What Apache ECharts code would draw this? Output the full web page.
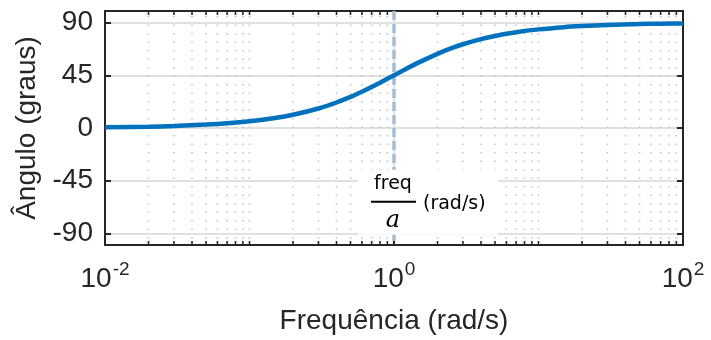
<!DOCTYPE html>
<html>
<head>
<meta charset="utf-8">
<script src="https://cdn.jsdelivr.net/npm/echarts@6/dist/echarts.min.js"></script>
<style>
  html, body { margin: 0; padding: 0; background: #fff; }
  #chart { width: 711px; height: 340px; }
</style>
</head>
<body>
<div id="chart"></div>
<script>
// frequency (rad/s) and phase (degrees)
const freq = [0.01, 0.02, 0.03, 0.05, 0.07, 0.1, 0.15, 0.2, 0.3, 0.4, 0.5, 0.6, 0.7, 0.8, 0.9,
  1, 1.2, 1.5, 2, 2.5, 3, 4, 5, 7, 10, 15, 20, 30, 50, 70, 100];
const phase = [0.6, 1.1, 1.7, 2.9, 4.0, 5.7, 8.5, 11.3, 16.7, 21.8, 26.6, 31.0, 35.0, 38.7, 42.0,
  45, 50.2, 56.3, 63.4, 68.2, 71.6, 76.0, 78.7, 81.9, 84.3, 86.2, 87.1, 88.1, 88.9, 89.2, 89.4];
const yTicks = [-90, -45, 0, 45, 90];
const minorTicks = [0.02, 0.03, 0.04, 0.05, 0.06, 0.07, 0.08, 0.09, 0.1,
  0.2, 0.3, 0.4, 0.5, 0.6, 0.7, 0.8, 0.9,
  2, 3, 4, 5, 6, 7, 8, 9, 10,
  20, 30, 40, 50, 60, 70, 80, 90];
const cornerFreq = 1;
const labelAt = [cornerFreq, -63];

const ink = '#262626';
const font = 'Liberation Sans';

var myChart = echarts.init(document.getElementById('chart'));

function expLabel(v) {
  const e = Math.round(Math.log10(v));
  return '{b|10}{s|' + e + '}';
}

const option = {
  animation: false,
  grid: { left: 105, right: 28, top: 11, bottom: 91 },
  xAxis: [{
    type: 'log', logBase: 100, min: 0.01, max: 100,
    name: 'Frequência (rad/s)', nameLocation: 'middle', nameGap: 62,
    nameTextStyle: { fontFamily: font, fontSize: 28, color: ink },
    axisLine: { onZero: false, lineStyle: { color: ink, width: 2 } },
    axisTick: { inside: true, length: 6, lineStyle: { color: ink, width: 2 } },
    axisLabel: {
      margin: 15, formatter: expLabel,
      rich: {
        b: { fontFamily: font, fontSize: 28, color: ink, verticalAlign: 'bottom' },
        s: { fontFamily: font, fontSize: 19, color: ink, verticalAlign: 'bottom', padding: [0, 0, 14, 1] }
      }
    },
    splitLine: { show: true, lineStyle: { color: '#e0e0e0', width: 2 } }
  }, {
    type: 'log', logBase: 100, min: 0.01, max: 100, position: 'top',
    axisLine: { onZero: false, lineStyle: { color: ink, width: 2 } },
    axisTick: { inside: true, length: 6, lineStyle: { color: ink, width: 2 } },
    axisLabel: { show: false },
    splitLine: { show: false }
  }],
  yAxis: [{
    type: 'value', min: -100, max: 100,
    name: 'Ângulo (graus)', nameLocation: 'middle', nameGap: 60,
    nameTextStyle: { fontFamily: font, fontSize: 28, color: ink },
    axisLine: { show: true, onZero: false, lineStyle: { color: ink, width: 2 } },
    axisTick: { show: true, inside: true, length: 6, customValues: yTicks, lineStyle: { color: ink, width: 2 } },
    axisLabel: { customValues: yTicks, margin: 12, fontFamily: font, fontSize: 28, color: ink },
    splitLine: { show: true, lineStyle: { color: '#e0e0e0', width: 2 } }
  }, {
    type: 'value', min: -100, max: 100, position: 'right',
    axisLine: { show: true, onZero: false, lineStyle: { color: ink, width: 2 } },
    axisTick: { show: true, inside: true, length: 6, customValues: yTicks, lineStyle: { color: ink, width: 2 } },
    axisLabel: { show: false },
    splitLine: { show: false }
  }],
  series: [{
    // minor grid (dotted) and minor ticks
    type: 'custom', silent: true, z: 1,
    data: minorTicks.map(v => [v, 0]),
    encode: { x: 0, y: 1 },
    renderItem: function (params, api) {
      const top = api.coord([api.value(0), 100]);
      const bot = api.coord([api.value(0), -100]);
      return {
        type: 'group', children: [
          { type: 'line', shape: { x1: top[0], y1: top[1] + 5, x2: bot[0], y2: bot[1] },
            style: { stroke: '#c4c4c4', lineWidth: 1.6, lineDash: [1.6, 6.9] } },
          { type: 'line', shape: { x1: top[0], y1: top[1], x2: top[0], y2: top[1] + 4 },
            style: { stroke: ink, lineWidth: 1.6 } },
          { type: 'line', shape: { x1: bot[0], y1: bot[1], x2: bot[0], y2: bot[1] - 4 },
            style: { stroke: ink, lineWidth: 1.6 } }
        ]
      };
    }
  }, {
    // dashed marker at the corner frequency
    type: 'custom', silent: true, z: 2,
    data: [[cornerFreq, 0]],
    encode: { x: 0, y: 1 },
    renderItem: function (params, api) {
      const top = api.coord([api.value(0), 100]);
      const bot = api.coord([api.value(0), -100]);
      return { type: 'line', shape: { x1: top[0], y1: top[1], x2: bot[0], y2: bot[1] },
        style: { stroke: '#a2bdd7', lineWidth: 3.5, lineDash: [9, 4] } };
    }
  }, {
    type: 'line', z: 3,
    data: freq.map((f, i) => [f, phase[i]]),
    showSymbol: false, smooth: 0.3,
    lineStyle: { color: '#0072BD', width: 4.5 }
  }, {
    // label box "freq/a (rad/s)" anchored at the corner frequency
    type: 'custom', silent: true, z: 20,
    data: [labelAt],
    encode: { x: 0, y: 1 },
    renderItem: function (params, api) {
      const c = api.coord([api.value(0), api.value(1)]);
      return {
        type: 'group', x: c[0], y: c[1], children: [
          { type: 'rect', shape: { x: -36, y: -32, width: 140, height: 65 }, style: { fill: '#fff' } },
          { type: 'text', x: -1, y: -18,
            style: { text: 'freq', font: '19px "DejaVu Sans"', fill: '#000', align: 'center', verticalAlign: 'middle' } },
          { type: 'line', shape: { x1: -23, y1: 0, x2: 22, y2: 0 }, style: { stroke: '#000', lineWidth: 2 } },
          { type: 'text', x: -1, y: 19,
            style: { text: 'a', font: 'italic 24px "DejaVu Serif"', fill: '#000', align: 'center', verticalAlign: 'middle' } },
          { type: 'text', x: 29, y: 2,
            style: { text: '(rad/s)', font: '19px "DejaVu Sans"', fill: '#000', align: 'left', verticalAlign: 'middle' } }
        ]
      };
    }
  }]
};

myChart.setOption(option);
</script>
</body>
</html>
